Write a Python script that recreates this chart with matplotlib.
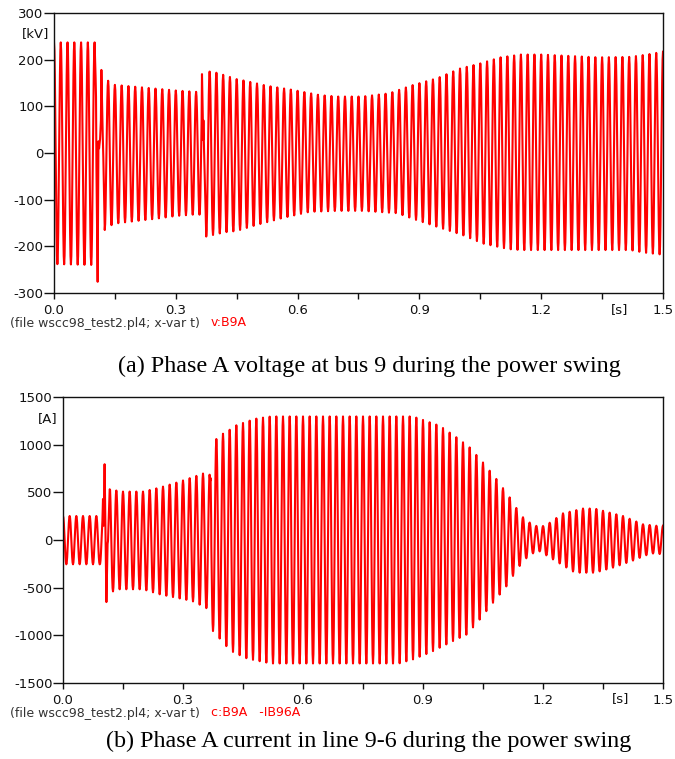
import numpy as np
import matplotlib
matplotlib.use("Agg")
import matplotlib.pyplot as plt
from matplotlib.ticker import MultipleLocator, FuncFormatter

# ---- data: envelope of the phase-A waveforms (upper / lower peaks) ----
F_SYS = 60.0          # system frequency [Hz]
T_END = 1.5           # simulated time [s]

# bus-9 voltage, kV
v_up_t = [0.0, 0.101, 0.106, 0.117, 0.133, 0.15, 0.2, 0.25, 0.3, 0.352, 0.364, 0.38,
          0.40, 0.43, 0.446, 0.475, 0.525, 0.59, 0.655, 0.70, 0.76, 0.826, 0.885,
          0.943, 1.0, 1.05, 1.1, 1.15, 1.2, 1.34, 1.42, 1.46, 1.5]
v_up = [237, 237, 205, 178, 155, 146, 142, 138, 134, 131, 169, 175,
        172, 164, 159, 154, 144, 135, 124, 121, 121, 128, 146,
        160, 181, 192, 205, 211, 211, 205, 206, 211, 217]
v_lo_t = [0.0, 0.1, 0.108, 0.125, 0.14, 0.16, 0.2, 0.25, 0.3, 0.358, 0.372, 0.39,
          0.42, 0.45, 0.5, 0.56, 0.63, 0.70, 0.76, 0.845, 0.894, 0.943, 1.007,
          1.056, 1.12, 1.15, 1.42, 1.45, 1.5]
v_lo = [-238, -240, -276, -165, -155, -150, -146, -141, -135, -131, -179, -176,
        -170, -167, -154, -140, -126, -124, -124, -129, -144, -158, -176,
        -194, -206, -208, -208, -213, -218]
# switching transients (fault inception, fault clearing)
v_tr_t = [[0.1, 0.1025, 0.1035, 0.1045, 0.1075, 0.1095, 0.111, 0.1135, 0.1155,
           0.1167, 0.12, 0.1215, 0.125],
          [0.3645, 0.3665, 0.3672, 0.368, 0.3688, 0.375]]
v_tr = [[237, 160, 120, -30, -276, 25, 10, 30, 70, 178, 40, -10, -165],
        [169, 77, 28, 70, 35, -179]]

# line 9-6 current, A
i_up_t = [0.0, 0.1, 0.104, 0.112, 0.125, 0.14, 0.2, 0.242, 0.29, 0.333, 0.35, 0.367,
          0.383, 0.398, 0.413, 0.43, 0.446, 0.463, 0.478, 0.52, 0.875, 0.942,
          0.984, 1.017, 1.05, 1.084, 1.117, 1.146, 1.167, 1.192, 1.217, 1.25,
          1.3, 1.33, 1.366, 1.4, 1.45, 1.49, 1.5]
i_up = [252, 252, 795, 600, 532, 508, 508, 550, 610, 672, 697, 685,
        1058, 1110, 1145, 1198, 1222, 1246, 1270, 1296, 1296, 1198,
        1076, 970, 813, 637, 445, 252, 182, 130, 182, 280,
        330, 330, 288, 252, 165, 147, 150]
i_lo_t = [0.0, 0.092, 0.1085, 0.125, 0.14, 0.2, 0.242, 0.323, 0.34, 0.358, 0.375,
          0.39, 0.404, 0.421, 0.438, 0.454, 0.471, 0.49, 0.52, 0.84, 0.875,
          0.917, 0.975, 1.01, 1.042, 1.075, 1.109, 1.138, 1.167, 1.192, 1.233,
          1.28, 1.33, 1.375, 1.42, 1.47, 1.5]
i_lo = [-255, -255, -651, -539, -517, -517, -570, -640, -675, -710, -955,
        -1025, -1095, -1166, -1200, -1235, -1253, -1270, -1295, -1295, -1252,
        -1182, -1060, -990, -833, -658, -483, -290, -150, -119, -224,
        -343, -343, -290, -224, -140, -150]
i_tr_t = [[0.0985, 0.1, 0.1015, 0.104, 0.1085, 0.1115, 0.1125, 0.1167],
          [0.3665, 0.368, 0.369, 0.3705]]
i_tr = [[200, 430, 150, 795, -651, -40, -10, 532],
        [685, 620, 650, 200]]

x_ticks = [0.0, 0.3, 0.6, 0.9, 1.2, 1.5]
captions = ["(a) Phase A voltage at bus 9 during the power swing",
            "(b) Phase A current in line 9-6 during the power swing"]


def waveform(t, up_t, up, lo_t, lo, tr_t, tr):
    """60 Hz carrier whose positive / negative peaks follow the envelopes,
    with the recorded switching transients spliced in."""
    u = np.interp(t, up_t, up)
    l = np.interp(t, lo_t, lo)
    y = 0.5 * (u + l) + 0.5 * (u - l) * np.cos(2 * np.pi * F_SYS * t)
    keep = np.ones_like(t, dtype=bool)
    for ts in tr_t:
        keep &= ~((t >= ts[0]) & (t <= ts[-1]))
    tt = np.concatenate([t[keep]] + [np.asarray(ts) for ts in tr_t])
    yy = np.concatenate([y[keep]] + [np.asarray(vs, float) for vs in tr])
    order = np.argsort(tt, kind="stable")
    return tt[order], yy[order]


t = np.arange(0.0, T_END + 1e-9, 1.0 / (F_SYS * 16))
tv, v = waveform(t, v_up_t, v_up, v_lo_t, v_lo, v_tr_t, v_tr)
ti, i = waveform(t, i_up_t, i_up, i_lo_t, i_lo, i_tr_t, i_tr)

plt.rcParams["axes.unicode_minus"] = False
plt.rcParams["font.family"] = ["DejaVu Sans"]

W, H = 675, 759
fig = plt.figure(figsize=(W / 100, H / 100), dpi=100)


def px_axes(x0, y0, x1, y1):
    return fig.add_axes([x0 / W, 1 - y1 / H, (x1 - x0) / W, (y1 - y0) / H])


def style(ax, ymin, ymax, ystep):
    ax.set_xlim(0, T_END)
    ax.set_ylim(ymin, ymax)
    ax.set_xticks(x_ticks)
    ax.xaxis.set_minor_locator(MultipleLocator(0.15))
    ax.xaxis.set_major_formatter(FuncFormatter(lambda x, p: f"{x:.1f}"))
    ax.yaxis.set_major_locator(MultipleLocator(ystep))
    ax.yaxis.set_major_formatter(FuncFormatter(lambda y, p: f"{y:.0f}"))
    ax.tick_params(axis="x", which="both", direction="out", length=4, width=1,
                   pad=4, labelsize=9.5, colors="#111111")
    ax.tick_params(axis="y", direction="out", length=7, width=1, pad=0.5,
                   labelsize=9.5, colors="#111111")
    for s in ax.spines.values():
        s.set_linewidth(1.0)
        s.set_color("#111111")


RED = "#ff0000"
CAP_X = 369 / W
NOTE = "(file wscc98_test2.pl4; x-var t)"

# voltage panel
ax1 = px_axes(54, 13, 663, 293)
ax1.plot(tv, v, color=RED, lw=1.5)
style(ax1, -300, 300, 100)
fig.text(22 / W, 1 - 34 / H, "[kV]", fontsize=9.5, color="#111111", va="center")
fig.text(611 / W, 1 - 310 / H, "[s]", fontsize=9.5, color="#111111", va="center")
fig.text(10 / W, 1 - 323 / H, NOTE, fontsize=9, color="#333333", va="center")
fig.text(211 / W, 1 - 323 / H, "v:B9A", fontsize=9, color=RED, va="center")
fig.text(CAP_X, 1 - 366 / H, captions[0], fontsize=17.4, family="Liberation Serif",
         ha="center", va="center", color="black")

# current panel
ax2 = px_axes(63, 397, 663, 683)
ax2.plot(ti, i, color=RED, lw=1.5)
style(ax2, -1500, 1500, 500)
fig.text(38 / W, 1 - 419 / H, "[A]", fontsize=9.5, color="#111111", va="center")
fig.text(612 / W, 1 - 699 / H, "[s]", fontsize=9.5, color="#111111", va="center")
fig.text(10 / W, 1 - 713 / H, NOTE, fontsize=9, color="#333333", va="center")
fig.text(211 / W, 1 - 713 / H, "c:B9A   -IB96A", fontsize=9, color=RED, va="center")
fig.text(CAP_X, 1 - 741 / H, captions[1], fontsize=17.4, family="Liberation Serif",
         ha="center", va="center", color="black")

fig.savefig("out.png", dpi=100)
